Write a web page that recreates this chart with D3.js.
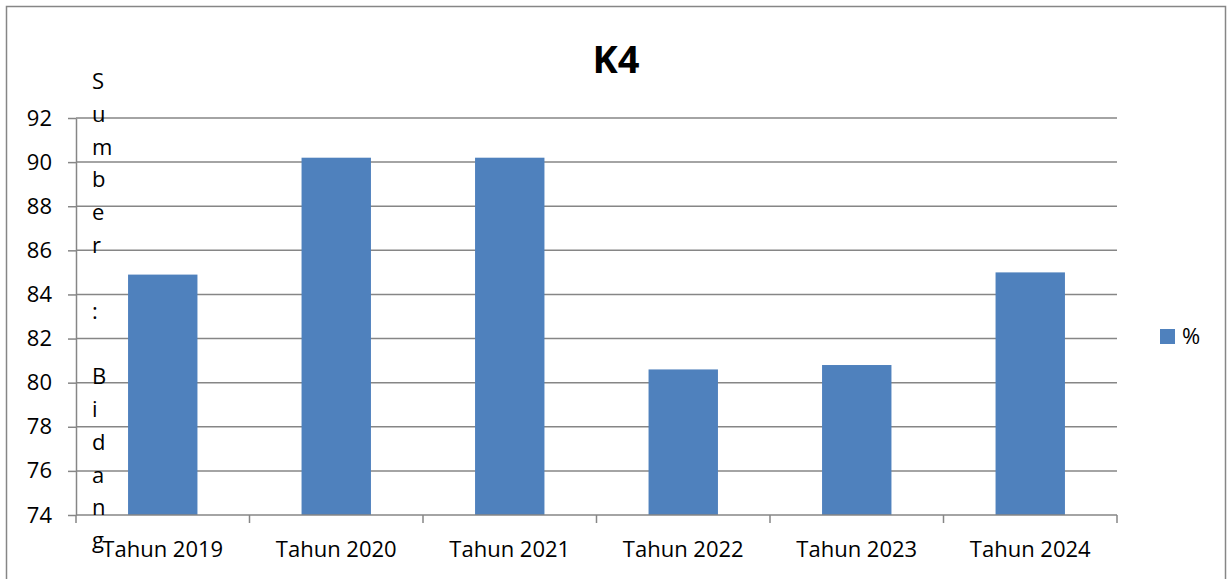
<!DOCTYPE html>
<html>
<head>
<meta charset="utf-8">
<script src="https://cdn.jsdelivr.net/npm/d3@7"></script>
<style>
  body { margin: 0; background: #fff; }
  text { font-family: "Open Sans", "Noto Sans", sans-serif; fill: #000; }
</style>
</head>
<body>
<svg id="chart" width="1228" height="579"></svg>
<script>
const categories = ['Tahun 2019', 'Tahun 2020', 'Tahun 2021', 'Tahun 2022', 'Tahun 2023', 'Tahun 2024'];
const values = [84.9, 90.2, 90.2, 80.6, 80.8, 85.0];
const yTicks = [74, 76, 78, 80, 82, 84, 86, 88, 90, 92];
const seriesName = '%';
const sideNote = 'Sumber : Bidang';

const svg = d3.select('#chart');
const plotLeft = 76, plotRight = 1117, plotTop = 118, plotBottom = 515;
const grey = '#868686';

// outer frame
svg.append('rect')
    .attr('x', 6.5).attr('y', 6.5)
    .attr('width', 1219).attr('height', 600)
    .attr('fill', 'none')
    .attr('stroke', grey)
    .attr('stroke-width', 1.5);

const x = d3.scaleBand()
    .domain(categories)
    .range([plotLeft, plotRight])
    .paddingInner(0.6)
    .paddingOuter(0.3);

const y = d3.scaleLinear()
    .domain([74, 92])
    .range([plotBottom, plotTop]);

// y labels + ticks
const yAxis = svg.append('g')
    .attr('transform', `translate(${plotLeft},0)`)
    .call(d3.axisLeft(y).tickValues(yTicks).tickSize(8).tickSizeOuter(0).tickPadding(16).tickFormat(d3.format('d')));
yAxis.select('.domain').attr('stroke', grey).attr('stroke-width', 1.5);
yAxis.selectAll('.tick line').attr('stroke', grey).attr('stroke-width', 1.5);
yAxis.selectAll('.tick text').style('font-size', '22px');

// grid lines
svg.append('g')
    .selectAll('line')
    .data(yTicks.filter(d => d !== 74))
    .join('line')
    .attr('x1', plotLeft).attr('x2', plotRight)
    .attr('y1', d => y(d)).attr('y2', d => y(d))
    .attr('stroke', grey)
    .attr('stroke-width', 1.5);

// bars
svg.append('g')
    .selectAll('rect')
    .data(values)
    .join('rect')
    .attr('x', (d, i) => x(categories[i]))
    .attr('y', d => y(d))
    .attr('width', x.bandwidth())
    .attr('height', d => y(74) - y(d))
    .attr('fill', '#4F81BD');

// x axis, ticks sit between categories
const xAxis = svg.append('g').attr('transform', `translate(0,${plotBottom})`);
xAxis.append('line')
    .attr('x1', plotLeft).attr('x2', plotRight)
    .attr('stroke', grey).attr('stroke-width', 1.5);
xAxis.selectAll('.sep')
    .data(d3.range(categories.length + 1))
    .join('line')
    .attr('x1', i => plotLeft + i * x.step())
    .attr('x2', i => plotLeft + i * x.step())
    .attr('y1', 0).attr('y2', 8)
    .attr('stroke', grey).attr('stroke-width', 1.5);
xAxis.selectAll('.lbl')
    .data(categories)
    .join('text')
    .attr('x', d => x(d) + x.bandwidth() / 2)
    .attr('y', 42)
    .attr('text-anchor', 'middle')
    .style('font-size', '22px')
    .text(d => d);

// stacked letters of the note
svg.append('g')
    .selectAll('text')
    .data(sideNote.split(''))
    .join('text')
    .attr('x', 92)
    .attr('y', (d, i) => 89 + i * 32.8)
    .style('font-size', '22px')
    .text(d => d);

// title
svg.append('text')
    .attr('x', 616).attr('y', 73)
    .attr('text-anchor', 'middle')
    .style('font-size', '38px')
    .style('font-weight', 'bold')
    .text('K4');

// legend
svg.append('rect')
    .attr('x', 1160).attr('y', 329)
    .attr('width', 15).attr('height', 15)
    .attr('fill', '#4F81BD');
svg.append('text')
    .attr('x', 1182).attr('y', 344)
    .style('font-size', '22px')
    .text(seriesName);
</script>
</body>
</html>
